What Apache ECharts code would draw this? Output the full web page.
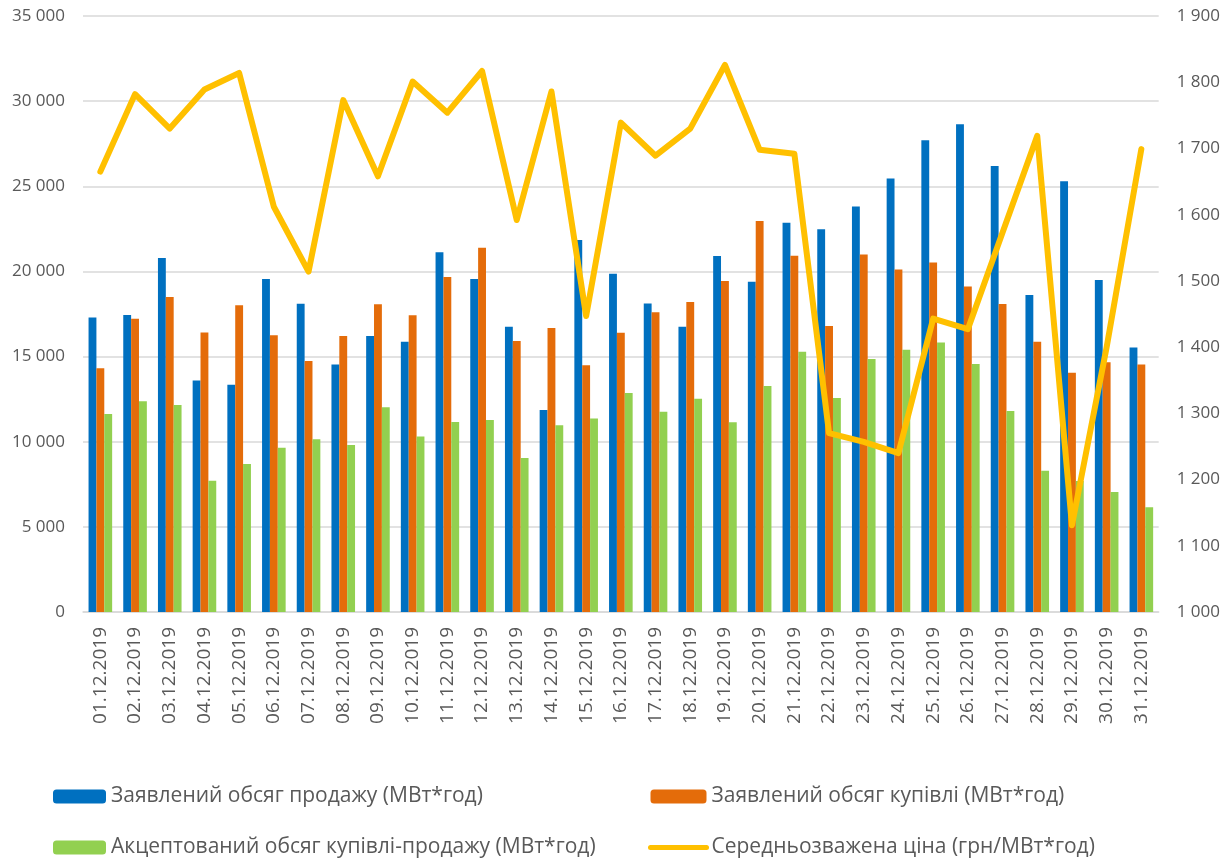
<!DOCTYPE html>
<html>
<head>
<meta charset="utf-8">
<title>Chart</title>
<script src="https://cdn.jsdelivr.net/npm/echarts@6/dist/echarts.min.js"></script>
<style>
    html, body { margin: 0; padding: 0; background: #fff; }
    #main { width: 1223px; height: 858px; }
</style>
</head>
<body>
<div id="main"></div>
<script>
// дати
var days = ['01.12.2019', '02.12.2019', '03.12.2019', '04.12.2019', '05.12.2019', '06.12.2019', '07.12.2019', '08.12.2019',
    '09.12.2019', '10.12.2019', '11.12.2019', '12.12.2019', '13.12.2019', '14.12.2019', '15.12.2019', '16.12.2019',
    '17.12.2019', '18.12.2019', '19.12.2019', '20.12.2019', '21.12.2019', '22.12.2019', '23.12.2019', '24.12.2019',
    '25.12.2019', '26.12.2019', '27.12.2019', '28.12.2019', '29.12.2019', '30.12.2019', '31.12.2019']

// заявлений обсяг продажу
var sale = [17300, 17440, 20790, 13600, 13350, 19550, 18100, 14540, 16210, 15870, 21120, 19550, 16750, 11860, 21840, 19870,
    18120, 16750, 20900, 19400, 22860, 22470, 23820, 25460, 27700, 28650, 26190, 18610, 25290, 19500, 15540]
// заявлений обсяг купівлі
var buy = [14310, 17220, 18500, 16420, 18010, 16250, 14740, 16210, 18070, 17420, 19670, 21390, 15910, 16680, 14490, 16400,
    17600, 18200, 19440, 22960, 20920, 16790, 21000, 20120, 20530, 19120, 18090, 15870, 14050, 14660, 14540]
// акцептований обсяг
var accepted = [11630, 12370, 12160, 7710, 8690, 9650, 10140, 9810, 12020, 10300, 11160, 11270, 9040, 10960, 11370, 12860,
    11760, 12530, 11140, 13270, 15290, 12570, 14860, 15400, 15820, 14560, 11800, 8290, 7690, 7050, 6150]
// середньозважена ціна
var price = [1665, 1782, 1730, 1789, 1814, 1612, 1514, 1773, 1658, 1801, 1754, 1817, 1592, 1786, 1447, 1739,
    1689, 1730, 1826, 1698, 1692, 1270, 1257, 1240, 1443, 1427, 1573, 1719, 1131, 1400, 1699]

var names = ['Заявлений обсяг продажу (МВт*год)', 'Заявлений обсяг купівлі (МВт*год)',
    'Акцептований обсяг купівлі-продажу (МВт*год)', 'Середньозважена ціна (грн/МВт*год)']

var font = '"Open Sans", "Noto Sans", sans-serif'

function spaced(v) {
    return String(v).replace(/\B(?=(\d{3})+(?!\d))/g, ' ')
}

var myChart = echarts.init(document.getElementById('main'))

var legendText = { fontFamily: font, fontSize: 21, color: '#595959' }

var option = {
    animation: false,
    grid: { left: 83, right: 61, top: 16, bottom: 246 },
    legend: [
        {
            orient: 'vertical',
            left: 53,
            top: 786,
            padding: 0,
            itemWidth: 53,
            itemHeight: 14,
            itemGap: 30,
            textStyle: legendText,
            data: [names[0], names[2]]
        },
        {
            orient: 'vertical',
            left: 648,
            top: 786,
            padding: 0,
            itemWidth: 56,
            itemHeight: 14,
            itemGap: 30,
            textStyle: legendText,
            data: [names[1], { name: names[3], itemStyle: { opacity: 0 }, lineStyle: { width: 5 } }]
        }
    ],
    xAxis: {
        type: 'category',
        data: days,
        axisLine: { lineStyle: { color: '#d9d9d9', width: 1.5 } },
        axisTick: { show: false },
        axisLabel: {
            rotate: 90,
            interval: 0,
            margin: 15,
            fontFamily: font,
            fontSize: 19,
            color: '#595959'
        }
    },
    yAxis: [
        {
            type: 'value',
            min: 0,
            max: 35000,
            interval: 5000,
            axisLine: { show: false },
            axisTick: { show: false },
            splitLine: { lineStyle: { color: '#d9d9d9', width: 1.5 } },
            axisLabel: {
                margin: 18,
                fontFamily: font,
                fontSize: 17,
                color: '#595959',
                formatter: spaced
            }
        },
        {
            type: 'value',
            min: 1000,
            max: 1900,
            interval: 100,
            axisLine: { show: false },
            axisTick: { show: false },
            splitLine: { show: false },
            axisLabel: {
                margin: 18,
                fontFamily: font,
                fontSize: 17,
                color: '#595959',
                formatter: spaced
            }
        }
    ],
    series: [
        {
            name: names[0],
            type: 'bar',
            data: sale,
            barGap: '0%',
            barCategoryGap: '32%',
            itemStyle: { color: '#0070c0' }
        },
        {
            name: names[1],
            type: 'bar',
            data: buy,
            itemStyle: { color: '#e46c0a' }
        },
        {
            name: names[2],
            type: 'bar',
            data: accepted,
            itemStyle: { color: '#92d050' }
        },
        {
            name: names[3],
            type: 'line',
            yAxisIndex: 1,
            data: price,
            symbol: 'none',
            itemStyle: { color: '#ffc000' },
            lineStyle: { color: '#ffc000', width: 6, cap: 'round', join: 'round' }
        }
    ]
}

myChart.setOption(option)
</script>
</body>
</html>
